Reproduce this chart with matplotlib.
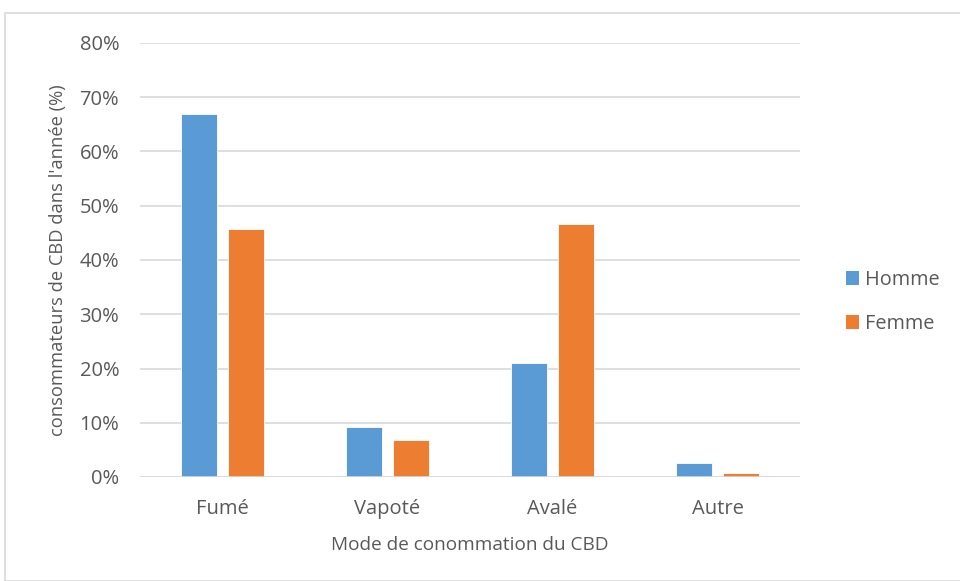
import matplotlib
matplotlib.use("Agg")
import matplotlib.pyplot as plt
import numpy as np
from matplotlib.patches import Rectangle, Patch

categories = ["Fumé", "Vapoté", "Avalé", "Autre"]
homme = [67.0, 9.3, 21.0, 2.6]
femme = [45.7, 6.9, 46.6, 0.8]
series_names = ["Homme", "Femme"]
colors = ["#5B9BD5", "#ED7D31"]
yticks = [0, 10, 20, 30, 40, 50, 60, 70, 80]

plt.rcParams['font.family'] = ['Open Sans', 'DejaVu Sans']
txt = "#595959"

fig = plt.figure(figsize=(9.6, 5.81), dpi=100)
ax = fig.add_axes([140/960, 1-477/581, 660/960, (477-43)/581])

x = np.arange(len(categories))
w = 0.22
off = 0.142
ax.bar(x - off, homme, width=w, color=colors[0], edgecolor="white", linewidth=0.6, zorder=3)
ax.bar(x + off, femme, width=w, color=colors[1], edgecolor="white", linewidth=0.6, zorder=3)

ax.set_xlim(-0.5, len(categories) - 0.5)
ax.set_ylim(0, 80)
ax.set_yticks(yticks)
ax.set_yticklabels([f"{v}%" for v in yticks], fontsize=14.5, color=txt)
ax.set_xticks(x)
ax.set_xticklabels(categories, fontsize=14.5, color=txt)
ax.tick_params(axis='both', length=0)
ax.tick_params(axis='y', pad=15)
ax.tick_params(axis='x', pad=16)
ax.grid(axis='y', color="#d9d9d9", linewidth=1.2, zorder=0)
for s in ax.spines.values():
    s.set_visible(False)
ax.axhline(0, color="#d9d9d9", linewidth=1.2, zorder=4)

ax.set_ylabel("consommateurs de CBD dans l'année (%)", fontsize=13.2, color=txt, labelpad=9)
ax.set_xlabel("Mode de conommation du CBD", fontsize=13.7, color=txt, labelpad=12)

handles = [Patch(facecolor=c) for c in colors]
leg = fig.legend(handles, series_names, loc="center left", bbox_to_anchor=(828/960, 1-302/581),
                 frameon=False, fontsize=14.3, handlelength=0.65, handleheight=0.65,
                 handletextpad=0.3, labelspacing=1.2)
for t in leg.get_texts():
    t.set_color(txt)

fig.patches.append(Rectangle((5/960, 0), 1, 1-13/581, transform=fig.transFigure,
                             fill=False, edgecolor="#d9d9d9", linewidth=1.2))

fig.savefig("out.png", dpi=100, facecolor="white")
